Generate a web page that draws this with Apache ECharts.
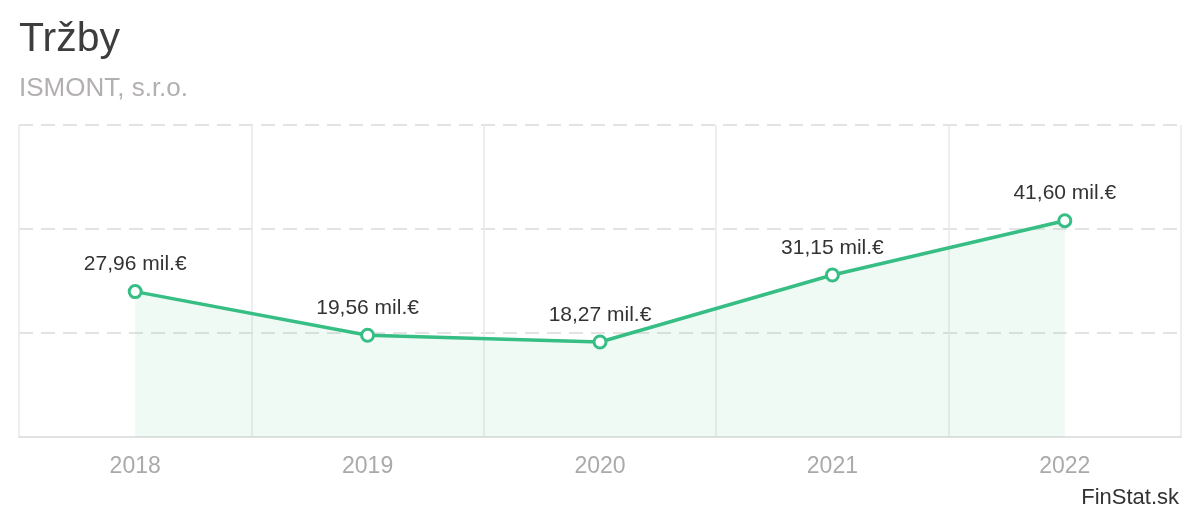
<!DOCTYPE html>
<html>
<head>
<meta charset="utf-8">
<script src="https://cdn.jsdelivr.net/npm/echarts@6/dist/echarts.min.js"></script>
<style>
html,body{margin:0;padding:0;background:#fff;}
#main{width:1200px;height:520px;}
</style>
</head>
<body>
<div id="main"></div>
<script>
const categories = ['2018', '2019', '2020', '2021', '2022'];
const values = [27.96, 19.56, 18.27, 31.15, 41.60];
const titleText = 'Tržby';
const subtitleText = 'ISMONT, s.r.o.';
const sourceText = 'FinStat.sk';

const FONT = '"Liberation Sans", Arial, sans-serif';
const GREEN = '#36be85';
const chart = echarts.init(document.getElementById('main'), null, {renderer: 'canvas'});
chart.setOption({
  animation: false,
  backgroundColor: '#fff',
  title: [
    {text: titleText, left: 19, top: 19, textStyle: {fontFamily: FONT, fontSize: 41, fontWeight: 'normal', color: '#3d3d3d'}, padding: 0},
    {text: subtitleText, left: 19, top: 76, textStyle: {fontFamily: FONT, fontSize: 26, fontWeight: 'normal', color: '#b3afaf'}, padding: 0},
    {text: sourceText, right: 21, top: 487, textStyle: {fontFamily: FONT, fontSize: 22, fontWeight: 'normal', color: '#333'}, padding: 0}
  ],
  grid: {left: 19, right: 19, top: 125, bottom: 83, containLabel: false},
  xAxis: {
    type: 'category',
    data: categories,
    boundaryGap: true,
    axisTick: {show: false},
    axisLine: {show: true, lineStyle: {color: '#e2e2e2', width: 2}},
    axisLabel: {color: '#aaaaaa', fontFamily: FONT, fontSize: 23, margin: 18},
    splitLine: {show: true, lineStyle: {color: '#e6e8ea', width: 1.5}}
  },
  yAxis: {
    type: 'value',
    min: 0, max: 60, interval: 20,
    axisLabel: {show: false},
    axisLine: {show: false},
    axisTick: {show: false},
    splitLine: {show: true, lineStyle: {color: '#e3e3e3', width: 2, type: [14, 8]}}
  },
  series: [{
    type: 'line',
    data: values,
    symbol: 'circle',
    symbolSize: 12,
    showAllSymbol: true,
    lineStyle: {color: GREEN, width: 3.5},
    itemStyle: {color: '#fff', borderColor: GREEN, borderWidth: 3},
    areaStyle: {color: GREEN, opacity: 0.08},
    label: {
      show: true,
      position: 'top',
      distance: 9,
      fontFamily: FONT,
      fontSize: 21,
      color: '#333',
      formatter: p => p.value.toFixed(2).replace('.', ',') + ' mil.€'
    },
    z: 3
  }]
});
</script>
</body>
</html>
